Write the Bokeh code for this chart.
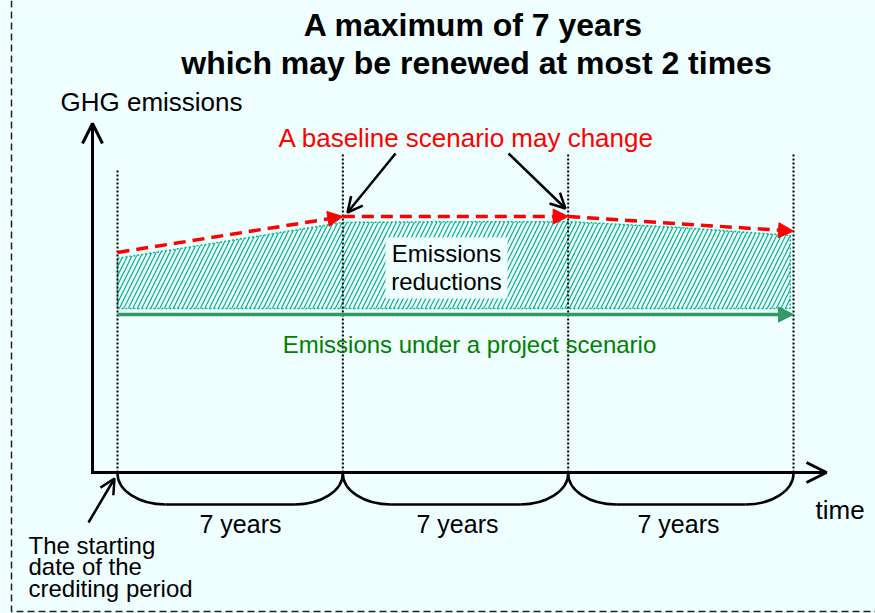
from bokeh.plotting import figure
from bokeh.models import Range1d, Arrow, OpenHead, NormalHead
from bokeh.core.properties import value
from bokeh.embed import file_html
from bokeh.resources import INLINE

# ---------------- data ----------------
title_lines = ["A maximum of 7 years", "which may be renewed at most 2 times"]
period_years = [0, 7, 14, 21]
period_labels = ["7 years", "7 years", "7 years"]
baseline_emissions = [5.57, 6.48, 6.48, 6.11]
project_years = [0, 21]
project_emissions = [4.0, 4.0]
reduction_years = [0, 3.5, 7, 10.5, 14, 17.5, 20.9]
reduction_top = [5.42, 5.87, 6.33, 6.35, 6.35, 6.20, 6.00]
reduction_bottom = [4.15, 4.15, 4.15, 4.15, 4.15, 4.15, 4.15]
start_label = ["The starting", "date of the", "crediting period"]

# ---------------- layout helpers (screen px -> data) ----------------
W, H = 875, 613
OFF = 0                        # page offset of the figure
OX, OY = 117.0, 472.0          # origin of years / emissions on screen
PXY = 676.0 / 21.0             # px per year
PXE = 39.5                     # px per emission unit
TSHIFT = 9                     # text baseline correction (px)


def X(sx):
    return (sx - OX) / PXY


def Y(sy):
    return (OY - sy) / PXE


BG = "#EFFFFF"
FONT = value("Liberation Sans")

p = figure(width=W, height=H, output_backend="svg", toolbar_location=None,
           x_range=Range1d(X(OFF), X(OFF + W)), y_range=Range1d(Y(OFF + H), Y(OFF)),
           x_axis_location=None, y_axis_location=None, min_border=0)
p.outline_line_color = None
p.background_fill_color = BG
p.border_fill_color = BG
p.grid.visible = False


def txt(sx, sy, s, size, color="black", align="left", bold=False, shift=TSHIFT):
    p.text(x=[X(sx)], y=[Y(sy - shift)], text=[s], text_font=FONT,
           text_font_size=value(f"{size}px"), text_color=color,
           text_align=align, text_baseline="alphabetic",
           text_font_style="bold" if bold else "normal")


# outer dashed frame (left + bottom visible)
p.line([X(11), X(11), X(OFF + W)], [Y(0), Y(611), Y(611)], line_color="#222222",
       line_width=1.5, line_dash="7 4")

# hatched emission reductions area
p.varea(x=reduction_years, y1=reduction_bottom, y2=reduction_top,
        fill_alpha=0, hatch_pattern="/", hatch_color="#00B38A",
        hatch_scale=9, hatch_weight=1.2)
outline_x = reduction_years + reduction_years[::-1] + [reduction_years[0]]
outline_y = reduction_top + reduction_bottom[::-1] + [reduction_top[0]]
p.line(outline_x, outline_y, line_color="#00B38A", line_width=1.5, line_dash="2 2")

# dotted vertical period boundaries
tops = [170, 153, 153, 152]
p.segment(x0=period_years, y0=[Y(472)] * 4, x1=period_years,
          y1=[Y(t) for t in tops], line_color="black", line_width=2,
          line_dash="2 2")

# box behind "Emissions reductions"
p.quad(left=X(385), right=X(507), top=Y(237), bottom=Y(298),
       fill_color=BG, line_color=None)
txt(446, 262, "Emissions", 24, align="center")
txt(446, 290, "reductions", 24, align="center")

# axes
p.add_layout(Arrow(x_start=X(92), y_start=Y(473.5), x_end=X(92), y_end=Y(123),
                   line_width=3, line_color="black",
                   end=OpenHead(size=20, line_width=3, line_color="black")))
p.add_layout(Arrow(x_start=X(90.5), y_start=Y(472), x_end=X(826), y_end=Y(472),
                   line_width=3, line_color="black",
                   end=OpenHead(size=20, line_width=3, line_color="black")))

# baseline scenario (red dashed arrows)
for i in range(len(period_years) - 1):
    p.add_layout(Arrow(x_start=period_years[i], y_start=baseline_emissions[i],
                       x_end=period_years[i + 1], y_end=baseline_emissions[i + 1],
                       line_color="red", line_width=3.5, line_dash="12 7",
                       end=NormalHead(size=15, fill_color="red", line_color="red")))

# project scenario (green arrow)
p.add_layout(Arrow(x_start=project_years[0], y_start=project_emissions[0],
                   x_end=project_years[1], y_end=project_emissions[1],
                   line_color="#339966", line_width=3.5,
                   end=NormalHead(size=15, fill_color="#339966", line_color="#339966")))

# braces under the time axis
rx = 48.0 / PXY
ry = 31.0 / PXE
k = 0.552
y_top = Y(473)
y_bot = y_top - ry
for i in range(len(period_years) - 1):
    a, b = period_years[i], period_years[i + 1]
    p.bezier(x0=[a, b], y0=[y_top, y_top], x1=[a + rx, b - rx], y1=[y_bot, y_bot],
             cx0=[a, b], cy0=[y_top - k * ry, y_top - k * ry],
             cx1=[a + rx - k * rx, b - rx + k * rx], cy1=[y_bot, y_bot],
             line_color="black", line_width=2.5)
    p.segment(x0=[a + rx], y0=[y_bot], x1=[b - rx], y1=[y_bot],
              line_color="black", line_width=2.5)

# pointer arrows
for (x0, y0, x1, y1) in [(395, 153, 347, 212), (508, 153, 565, 208), (88, 522, 114, 478)]:
    p.add_layout(Arrow(x_start=X(x0), y_start=Y(y0), x_end=X(x1), y_end=Y(y1),
                       line_width=2.5, line_color="black",
                       end=OpenHead(size=15, line_width=2.5, line_color="black")))

# texts
txt(473, 33, title_lines[0], 32, bold=True, align="center")
txt(476, 71, title_lines[1], 32, bold=True, align="center")
txt(60, 110, "GHG emissions", 26)
txt(466, 146, "A baseline scenario may change", 26, color="red", align="center")
txt(469, 353, "Emissions under a project scenario", 24, color="#008000", align="center")
label_x = [240, 457, 678]
for lx, lab in zip(label_x, period_labels):
    txt(lx, 532, lab, 25, align="center")
txt(815, 518, "time", 26)
for sy, line in zip([552, 573, 595], start_label):
    txt(28, sy, line, 24, shift=7)

open("out.html", "w").write(file_html(p, INLINE))
